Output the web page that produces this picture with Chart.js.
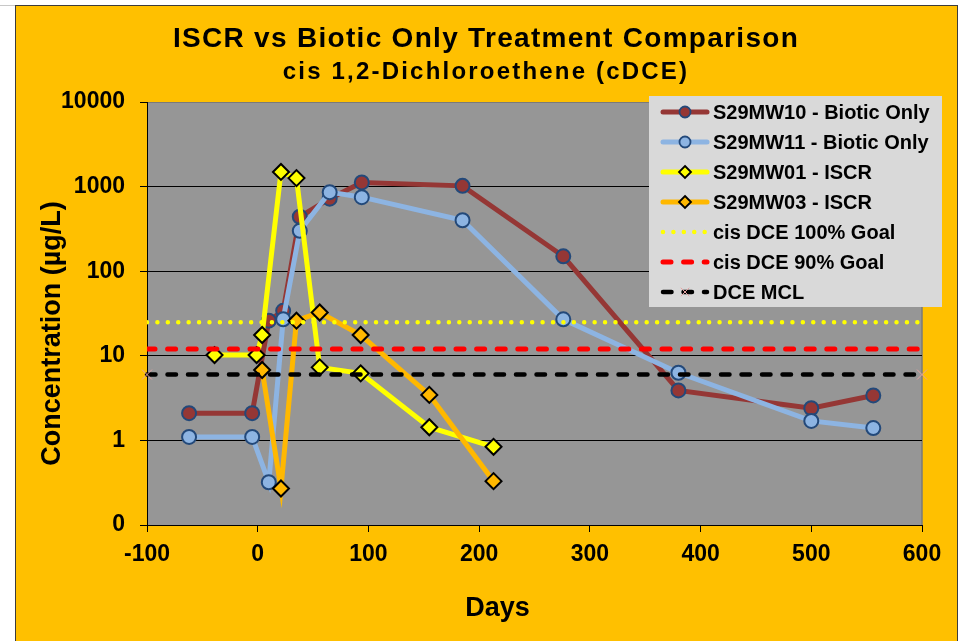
<!DOCTYPE html>
<html>
<head>
<meta charset="utf-8">
<title>ISCR vs Biotic Only Treatment Comparison</title>
<script src="https://cdn.jsdelivr.net/npm/chart.js@4.4.1/dist/chart.umd.min.js"></script>
<style>
  html, body { margin: 0; padding: 0; background: #fff; }
  body { width: 965px; height: 641px; position: relative; overflow: hidden; }
  #edge { position: absolute; left: 0; top: 5px; width: 15px; height: 1px; background: #c8c8c8; }
  #frame { position: absolute; left: 15px; top: 5px; width: 941px; height: 660px; background: #ffc000; border: 1px solid #3c3c3c; }
  #chart { position: absolute; left: 0; top: 0; }
</style>
</head>
<body>
<div id="edge"></div>
<div id="frame"></div>
<canvas id="chart" width="965" height="641"></canvas>
<script>
const FONT = "'Liberation Sans', Arial, sans-serif";

// data
const seriesNames = [
    "S29MW10 - Biotic Only",
    "S29MW11 - Biotic Only",
    "S29MW01 - ISCR",
    "S29MW03 - ISCR",
    "cis DCE 100% Goal",
    "cis DCE 90% Goal",
    "DCE MCL"
];
const bioDays = [-62, -5, 10, 23, 38, 65, 94, 185, 276, 380, 500, 556];
const mw10 = [2.1, 2.1, 26, 34, 440, 720, 1120, 1020, 150, 3.9, 2.4, 3.4];
const mw11 = [1.1, 1.1, 0.32, 27, 300, 860, 750, 400, 27, 6.3, 1.7, 1.4];
const mw01Days = [-39, -1, 4, 21, 35, 56, 93, 155, 213];
const mw01 = [10.2, 10.2, 17.6, 1490, 1260, 7.3, 6.2, 1.43, 0.84];
const mw03Days = [4, 21, 35, 56, 93, 155, 213];
const mw03 = [6.8, 0.27, 26, 32.5, 17.6, 3.45, 0.33];
const goalDays = [-100, 600];
const goal100 = [25, 25];
const goal90 = [12, 12];
const mcl = [6, 6];
const xTicks = [-100, 0, 100, 200, 300, 400, 500, 600];
const yTicks = [0.1, 1, 10, 100, 1000, 10000];
const yTickLabels = ["0", "1", "10", "100", "1000", "10000"];

const pts = (xs, ys) => xs.map((x, i) => ({ x: x, y: ys[i] }));

const datasets = [
    {
        data: pts(bioDays, mw10),
        borderColor: "#953735", borderWidth: 5,
        pointStyle: "circle", pointRadius: 7, pointBorderWidth: 2,
        pointBackgroundColor: "#953735", pointBorderColor: "#23497a"
    },
    {
        data: pts(bioDays, mw11),
        borderColor: "#8db4e2", borderWidth: 5,
        pointStyle: "circle", pointRadius: 7, pointBorderWidth: 2,
        pointBackgroundColor: "#8db4e2", pointBorderColor: "#23497a"
    },
    {
        data: pts(mw01Days, mw01),
        borderColor: "#ffff00", borderWidth: 5,
        pointStyle: "rectRot", pointRadius: 8, pointBorderWidth: 2,
        pointBackgroundColor: "#ffff00", pointBorderColor: "#000"
    },
    {
        data: pts(mw03Days, mw03),
        borderColor: "#ffb800", borderWidth: 5,
        pointStyle: "rectRot", pointRadius: 8, pointBorderWidth: 2,
        pointBackgroundColor: "#ffb800", pointBorderColor: "#000"
    },
    {
        data: pts(goalDays, goal100),
        borderColor: "#ffff00", borderWidth: 4.5,
        borderDash: [0.01, 10.4], borderCapStyle: "round",
        pointRadius: 0
    },
    {
        data: pts(goalDays, goal90),
        borderColor: "#ff0000", borderWidth: 5,
        borderDash: [8, 12.6], borderCapStyle: "round",
        pointRadius: 0
    },
    {
        data: pts(goalDays, mcl),
        borderColor: "#000", borderWidth: 4.5,
        borderDash: [8.5, 12], borderCapStyle: "round",
        pointStyle: "crossRot", pointRadius: 7, pointBorderWidth: 1,
        pointBorderColor: "#e6a3a3", clip: false
    }
];
datasets.forEach((d, i) => {
    d.label = seriesNames[i];
    d.showLine = true;
    d.tension = 0;
    d.order = -i;   // later series on top, like Excel
});

function drawMarker(ctx, style, x, y, r, fill, stroke, lw) {
    ctx.save();
    ctx.setLineDash([]);
    ctx.beginPath();
    if (style === "circle") {
        ctx.arc(x, y, r, 0, Math.PI * 2);
    } else if (style === "rectRot") {
        ctx.moveTo(x, y - r); ctx.lineTo(x + r, y);
        ctx.lineTo(x, y + r); ctx.lineTo(x - r, y);
        ctx.closePath();
    } else {
        const d = r * 0.707;
        ctx.moveTo(x - d, y - d); ctx.lineTo(x + d, y + d);
        ctx.moveTo(x + d, y - d); ctx.lineTo(x - d, y + d);
    }
    if (style !== "crossRot") { ctx.fillStyle = fill; ctx.fill(); }
    ctx.lineWidth = lw;
    ctx.strokeStyle = stroke;
    ctx.stroke();
    ctx.restore();
}

const decor = {
    id: "decor",
    beforeDraw(chart) {
        const { ctx, chartArea: a } = chart;
        ctx.save();
        ctx.fillStyle = "#969696";
        ctx.fillRect(a.left, a.top, a.right - a.left, a.bottom - a.top);
        ctx.strokeStyle = "#7a7a7a";
        ctx.lineWidth = 1.5;
        ctx.beginPath();
        ctx.moveTo(a.right, a.top);
        ctx.lineTo(a.right, a.bottom);
        ctx.stroke();
        ctx.restore();
    },
    afterDraw(chart) {
        const ctx = chart.ctx;
        ctx.save();
        ctx.fillStyle = "#000";
        ctx.textAlign = "center";
        ctx.textBaseline = "alphabetic";

        // titles
        ctx.font = "bold 28px " + FONT;
        ctx.letterSpacing = "1.3px";
        ctx.fillText("ISCR vs Biotic Only Treatment Comparison", 486, 46.5);
        ctx.font = "bold 24px " + FONT;
        ctx.letterSpacing = "2.2px";
        ctx.fillText("cis 1,2-Dichloroethene (cDCE)", 486, 78.5);
        ctx.letterSpacing = "0px";

        // axis titles
        ctx.font = "bold 27px " + FONT;
        ctx.fillText("Days", 497.5, 616);
        ctx.save();
        ctx.translate(60, 333.5);
        ctx.rotate(-Math.PI / 2);
        ctx.fillText("Concentration (\u00b5g/L)", 0, 0);
        ctx.restore();

        // legend box
        ctx.fillStyle = "#d9d9d9";
        ctx.fillRect(649, 96, 293, 211);
        ctx.font = "bold 20px " + FONT;
        ctx.textAlign = "left";
        ctx.textBaseline = "middle";
        chart.data.datasets.forEach((ds, i) => {
            const y = 112 + i * 30;
            ctx.save();
            ctx.strokeStyle = ds.borderColor;
            ctx.lineWidth = ds.borderWidth;
            ctx.lineCap = ds.borderCapStyle || "round";
            ctx.setLineDash(ds.borderDash || []);
            ctx.beginPath();
            ctx.moveTo(663, y);
            ctx.lineTo(707, y);
            ctx.stroke();
            ctx.restore();
            if (ds.pointRadius > 0) {
                const r = ds.pointStyle === "circle" ? 5.5 : 6;
                drawMarker(ctx, ds.pointStyle, 685, y, r,
                    ds.pointBackgroundColor, ds.pointBorderColor, ds.pointBorderWidth === 2 ? 1.8 : 1);
            }
            ctx.fillStyle = "#000";
            ctx.fillText(ds.label, 713, y + 1);
        });
        ctx.restore();
    }
};

new Chart(document.getElementById("chart"), {
    type: "scatter",
    data: { datasets: datasets },
    options: {
        responsive: false,
        animation: false,
        events: [],
        layout: { padding: { left: 0, top: 102, right: 43, bottom: 0 } },
        plugins: {
            legend: { display: false },
            tooltip: { enabled: false }
        },
        scales: {
            x: {
                type: "linear",
                min: -100,
                max: 600,
                afterBuildTicks: s => { s.ticks = xTicks.map(v => ({ value: v })); },
                afterFit: s => { s.height = 116; },
                grid: { drawOnChartArea: false, tickLength: 7, tickColor: "#000" },
                border: { color: "#000", width: 1 },
                ticks: {
                    color: "#000",
                    padding: 9,
                    maxRotation: 0,
                    autoSkip: false,
                    font: { family: FONT, size: 23, weight: "bold" },
                    callback: v => String(v)
                }
            },
            y: {
                type: "logarithmic",
                min: 0.1,
                max: 10000,
                afterBuildTicks: s => { s.ticks = yTicks.map(v => ({ value: v })); },
                afterFit: s => { s.width = 147; },
                grid: {
                    color: c => (c.tick && c.tick.value === 10000 ? "#7a7a7a" : "#000"),
                    tickColor: "#000",
                    tickLength: 7,
                    lineWidth: 1
                },
                border: { color: "#000", width: 1 },
                ticks: {
                    color: "#000",
                    padding: 15,
                    font: { family: FONT, size: 23, weight: "bold" },
                    callback: (v, i) => yTickLabels[i]
                }
            }
        }
    },
    plugins: [decor]
});
</script>
</body>
</html>
